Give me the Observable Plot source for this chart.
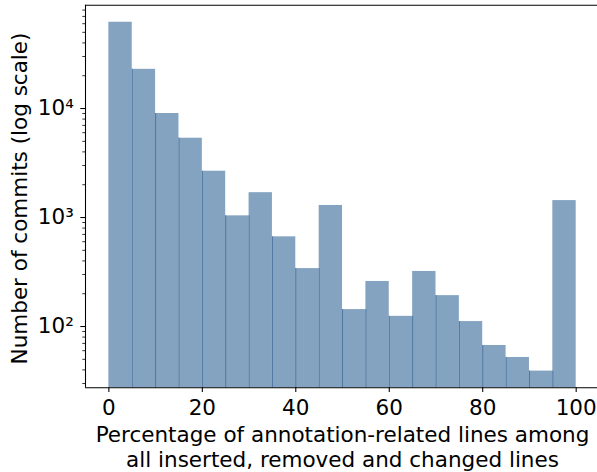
<!DOCTYPE html>
<html>
<head>
<meta charset="utf-8">
<script src="https://cdn.jsdelivr.net/npm/d3@7"></script>
<script src="https://cdn.jsdelivr.net/npm/@observablehq/plot@0.6"></script>
<style>
  html, body { margin: 0; padding: 0; background: white; }
</style>
</head>
<body>
<div id="chart"></div>
<script>
// Histogram bins (left edges, %), bin width 5
const binStarts = [0, 5, 10, 15, 20, 25, 30, 35, 40, 45, 50, 55, 60, 65, 70, 75, 80, 85, 90, 95];
const binWidth = 5;
// Number of commits per bin
const counts = [61900, 22900, 9000, 5340, 2660, 1036, 1690, 665, 340, 1290, 143, 259, 124, 320, 192, 111, 67, 52, 39, 1430];

const xTicks = [0, 20, 40, 60, 80, 100];
const yMajorTicks = [100, 1000, 10000];
const yMinorTicks = [30, 40, 50, 60, 70, 80, 90, 200, 300, 400, 500, 600, 700, 800, 900,
                     2000, 3000, 4000, 5000, 6000, 7000, 8000, 9000, 20000, 30000, 40000, 50000, 60000, 70000, 80000];

const xLabel = "Percentage of annotation-related lines among\nall inserted, removed and changed lines";
const yLabel = "Number of commits (log scale)";

const xDomain = [-5, 104.56];
const yDomain = [27.4, 88700];

const bars = binStarts.map((s, i) => ({x1: s, x2: s + binWidth, count: counts[i]}));
const edges = binStarts.slice(1).map((s, i) => ({x: s, top: Math.min(counts[i], counts[i + 1])}));

const sup = {"1": "\u00b9", "2": "\u00b2", "3": "\u00b3", "4": "\u2074", "5": "\u2075"};
const fs = 21.5;

const chart = Plot.plot({
  width: 597,
  height: 472,
  marginLeft: 85,
  marginRight: 0,
  marginTop: 4.7,
  marginBottom: 84.7,
  style: {fontFamily: "'DejaVu Sans', sans-serif", fontSize: fs + "px", color: "black", background: "white"},
  x: {domain: xDomain},
  y: {type: "log", domain: yDomain},
  marks: [
    Plot.rect(bars, {x1: "x1", x2: "x2", y1: () => yDomain[0], y2: "count", fill: "#84a3c1"}),
    Plot.ruleX(edges, {x: "x", y1: () => yDomain[0], y2: "top", stroke: "#4f77a1", strokeWidth: 1}),
    Plot.ruleX([xDomain[0]], {stroke: "black", strokeWidth: 1.07}),
    Plot.ruleY([yDomain[0], yDomain[1]], {stroke: "black", strokeWidth: 1.07}),
    Plot.axisX({ticks: xTicks, tickSize: 4.7, tickPadding: 7, label: null, fontSize: fs, strokeWidth: 1.07}),
    Plot.axisY({ticks: yMajorTicks, tickSize: 4.7, tickPadding: 7, label: null, fontSize: fs, strokeWidth: 1.07,
      tickFormat: d => "10" + sup[String(Math.round(Math.log10(d)))]}),
    Plot.axisY({ticks: yMinorTicks, tickSize: 2.7, tickFormat: () => "", label: null, strokeWidth: 0.8}),
    Plot.text([yLabel], {text: d => d, frameAnchor: "left", rotate: -90, dx: -59, dy: 2,
      lineAnchor: "bottom", textAnchor: "middle", fontSize: fs, fill: "black"}),
    Plot.text([xLabel], {text: d => d, frameAnchor: "bottom", dy: 36.9, dx: 1, lineAnchor: "top",
      lineHeight: 1.15, textAnchor: "middle", fontSize: fs, fill: "black"})
  ]
});
document.getElementById("chart").appendChild(chart);
</script>
</body>
</html>
